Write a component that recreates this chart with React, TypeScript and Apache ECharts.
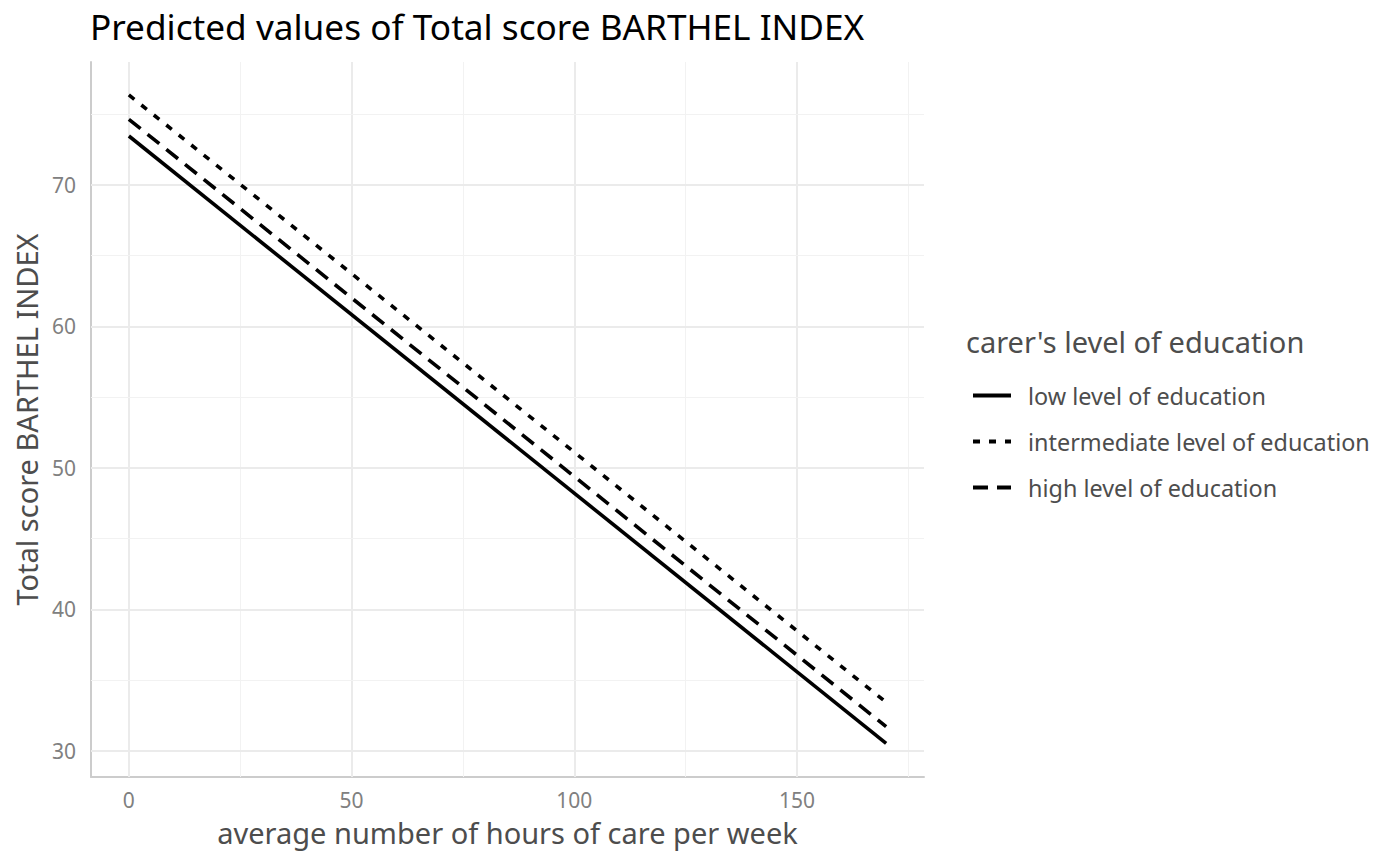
import React, { useEffect, useRef } from "react";
import * as echarts from "echarts";

const hours = [0, 170];
const lowEdu = [73.46, 30.54];
const intermediateEdu = [76.36, 33.44];
const highEdu = [74.64, 31.72];

const seriesNames = [
  "low level of education",
  "intermediate level of education",
  "high level of education",
];

const xTicks = [0, 50, 100, 150];
const xMinor = [25, 75, 125, 175];
const yTicks = [30, 40, 50, 60, 70];
const yMinor = [35, 45, 55, 65, 75];

const X_MIN = -8.5;
const X_MAX = 178.5;
const Y_MIN = 28.16;
const Y_MAX = 78.69;

const FONT = "'Noto Sans', 'Open Sans', sans-serif";

export default function App() {
  const ref = useRef<HTMLDivElement>(null);
  useEffect(() => {
    document.body.style.margin = "0";
    if (!ref.current) return;
    const chart = echarts.init(ref.current, null, { renderer: "svg" });

    const toPairs = (ys: number[]) => hours.map((x, i) => [x, ys[i]]);

    const gridLines = [
      ...xTicks.map((v) => ({ xAxis: v, lineStyle: { color: "#ebebeb", width: 2, type: "solid" } })),
      ...xMinor.map((v) => ({ xAxis: v, lineStyle: { color: "#f2f2f2", width: 1, type: "solid" } })),
      ...yTicks.map((v) => ({ yAxis: v, lineStyle: { color: "#ebebeb", width: 2, type: "solid" } })),
      ...yMinor.map((v) => ({ yAxis: v, lineStyle: { color: "#f2f2f2", width: 1, type: "solid" } })),
    ];

    const dashes: any[] = ["solid", [7, 9], [15, 9]];
    const values = [lowEdu, intermediateEdu, highEdu];
    const LW = 3.6;

    const series: any[] = values.map((ys, i) => ({
      name: seriesNames[i],
      type: "line",
      data: toPairs(ys),
      symbol: "none",
      z: 5,
      lineStyle: { color: "#000000", width: LW, type: dashes[i], cap: "butt" },
      itemStyle: { color: "#000000" },
      ...(i === 0
        ? {
            markLine: {
              silent: true,
              symbol: "none",
              label: { show: false },
              z: 1,
              data: gridLines,
            },
          }
        : {}),
    }));

    chart.setOption({
      animation: false,
      backgroundColor: "#ffffff",
      textStyle: { fontFamily: FONT },
      title: [
        {
          text: "Predicted values of Total score BARTHEL INDEX",
          left: 90,
          top: 8,
          padding: 0,
          textStyle: { fontFamily: FONT, fontSize: 35.2, fontWeight: "normal", color: "#000000" },
        },
        {
          text: "carer's level of education",
          left: 966,
          top: 327,
          padding: 0,
          textStyle: { fontFamily: FONT, fontSize: 29, fontWeight: "normal", color: "#4d4d4d" },
        },
      ],
      legend: {
        orient: "vertical",
        left: 971,
        top: 384,
        padding: 0,
        itemWidth: 38,
        itemHeight: 14,
        itemGap: 23,
        data: seriesNames.map((n, i) => ({
          name: n,
          lineStyle: { width: 4, type: dashes[i], color: "#000000", cap: "butt" },
        })),
        itemStyle: { opacity: 0 },
        textStyle: { fontFamily: FONT, fontSize: 23.4, color: "#4d4d4d", padding: [0, 0, 0, 12] },
      },
      grid: { left: 91, right: 476, top: 62, bottom: 89 },
      xAxis: {
        type: "value",
        min: X_MIN,
        max: X_MAX,
        name: "average number of hours of care per week",
        nameLocation: "middle",
        nameGap: 41,
        nameTextStyle: { fontFamily: FONT, fontSize: 29, color: "#4d4d4d" },
        axisLine: { show: true, onZero: false, lineStyle: { color: "#cccccc", width: 2 } },
        axisTick: { show: false },
        splitLine: { show: false },
        axisLabel: {
          customValues: xTicks,
          margin: 12,
          fontFamily: FONT,
          fontSize: 21,
          color: "#808080",
        },
      },
      yAxis: {
        type: "value",
        min: Y_MIN,
        max: Y_MAX,
        name: "Total score BARTHEL INDEX",
        nameLocation: "middle",
        nameGap: 47,
        nameTextStyle: { fontFamily: FONT, fontSize: 29, color: "#4d4d4d" },
        axisLine: { show: true, onZero: false, lineStyle: { color: "#cccccc", width: 2 } },
        axisTick: { show: false },
        splitLine: { show: false },
        axisLabel: {
          customValues: yTicks,
          margin: 15,
          fontFamily: FONT,
          fontSize: 21,
          color: "#808080",
        },
      },
      series,
    });
    return () => chart.dispose();
  }, []);
  return <div ref={ref} style={{ width: 1400, height: 866 }} />;
}
